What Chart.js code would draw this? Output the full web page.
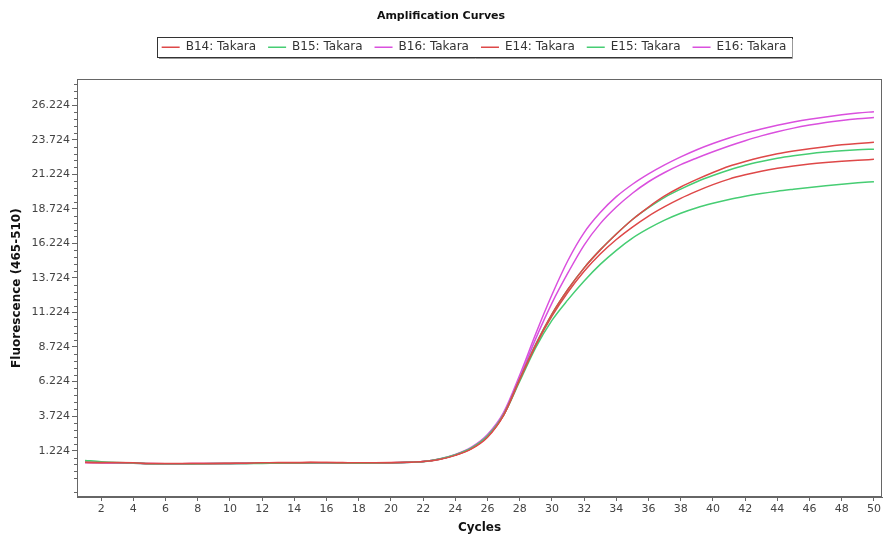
<!DOCTYPE html>
<html>
<head>
<meta charset="utf-8">
<script src="https://cdn.jsdelivr.net/npm/chart.js@4.4.0/dist/chart.umd.min.js"></script>
<style>
  html, body { margin: 0; padding: 0; background: #fff; }
</style>
</head>
<body>
<canvas id="chart" width="885" height="541"></canvas>
<script>
// Cycles (x) and tick values
const cycles = [1, 2, 3, 4, 5, 6, 7, 8, 9, 10, 11, 12, 13, 14, 15, 16, 17, 18, 19, 20, 21, 22, 23, 24, 25,
                26, 27, 28, 29, 30, 31, 32, 33, 34, 35, 36, 37, 38, 39, 40, 41, 42, 43, 44, 45, 46, 47, 48, 49, 50];
const xTickValues = [2, 4, 6, 8, 10, 12, 14, 16, 18, 20, 22, 24, 26, 28, 30, 32, 34, 36, 38, 40, 42, 44, 46, 48, 50];
const yTickValues = [1.224, 3.724, 6.224, 8.724, 11.224, 13.724, 16.224, 18.724, 21.224, 23.724, 26.224];

const seriesNames = ['B14: Takara', 'B15: Takara', 'B16: Takara', 'E14: Takara', 'E15: Takara', 'E16: Takara'];
const seriesColors = ['rgb(222,72,72)', 'rgb(70,205,115)', 'rgb(218,80,222)', 'rgb(222,72,72)', 'rgb(70,205,115)', 'rgb(218,80,222)'];

// Fluorescence values per cycle
const b14 = [0.38, 0.37, 0.36, 0.34, 0.30, 0.29, 0.29, 0.30, 0.30, 0.31, 0.32, 0.34, 0.35, 0.35, 0.36, 0.36, 0.35, 0.34, 0.34, 0.35, 0.38, 0.43,
             0.58, 0.88, 1.35, 2.2, 3.8, 6.4,
             8.9, 11.1, 12.9, 14.45, 15.75, 16.9, 17.95, 18.85, 19.65, 20.3, 20.85, 21.35, 21.8, 22.15, 22.45, 22.7, 22.9, 23.07, 23.22, 23.35, 23.45, 23.53];
const b15 = [0.52, 0.42, 0.36, 0.33, 0.28, 0.27, 0.27, 0.28, 0.29, 0.29, 0.30, 0.31, 0.32, 0.33, 0.34, 0.34, 0.33, 0.32, 0.33, 0.35, 0.38, 0.44,
             0.62, 0.93, 1.42, 2.3, 3.85, 6.4,
             8.95, 11.1, 12.9, 14.45, 15.75, 16.9, 17.95, 18.8, 19.55, 20.15, 20.68, 21.13, 21.53, 21.88, 22.15, 22.38, 22.56, 22.71, 22.83, 22.93, 23.0, 23.04];
const b16 = [0.37, 0.36, 0.35, 0.33, 0.29, 0.28, 0.28, 0.29, 0.30, 0.30, 0.31, 0.33, 0.34, 0.35, 0.35, 0.35, 0.34, 0.34, 0.34, 0.35, 0.38, 0.44,
             0.62, 0.95, 1.48, 2.4, 4.0, 6.7,
             9.7, 12.5, 15.0, 17.0, 18.45, 19.6, 20.5, 21.25, 21.9, 22.48, 23.0, 23.45, 23.85, 24.2, 24.5, 24.77, 25.0, 25.2, 25.37, 25.52, 25.65, 25.75];
const e14 = [0.36, 0.35, 0.35, 0.33, 0.29, 0.28, 0.28, 0.29, 0.29, 0.30, 0.31, 0.33, 0.36, 0.37, 0.38, 0.37, 0.36, 0.35, 0.35, 0.36, 0.39, 0.44,
             0.6, 0.9, 1.38, 2.25, 3.8, 6.35,
             8.85, 10.95, 12.7, 14.2, 15.45, 16.5, 17.4, 18.2, 18.88, 19.48, 20.0, 20.47, 20.87, 21.18, 21.44, 21.65, 21.82, 21.96, 22.07, 22.16, 22.24, 22.30];
const e15 = [0.40, 0.37, 0.35, 0.32, 0.27, 0.26, 0.26, 0.27, 0.28, 0.28, 0.29, 0.30, 0.31, 0.32, 0.32, 0.33, 0.32, 0.31, 0.31, 0.33, 0.37, 0.42,
             0.6, 0.92, 1.4, 2.28, 3.8, 6.25,
             8.7, 10.65, 12.15, 13.5, 14.7, 15.72, 16.6, 17.3, 17.9, 18.4, 18.8, 19.12, 19.4, 19.63, 19.83, 20.0, 20.14, 20.27, 20.39, 20.5, 20.6, 20.68];
const e16 = [0.36, 0.35, 0.34, 0.32, 0.28, 0.27, 0.27, 0.28, 0.29, 0.29, 0.30, 0.32, 0.33, 0.34, 0.34, 0.34, 0.33, 0.33, 0.33, 0.34, 0.37, 0.43,
             0.6, 0.92, 1.43, 2.33, 3.9, 6.5,
             9.35, 11.9, 14.1, 16.1, 17.65, 18.85, 19.85, 20.68, 21.35, 21.92, 22.4, 22.85, 23.27, 23.65, 24.0, 24.3, 24.56, 24.78, 24.97, 25.12, 25.24, 25.33];

const seriesValues = [b14, b15, b16, e14, e15, e16];

const FONT = 'DejaVu Sans';

// Box round the plot, box round the legend, small minor ticks on y
const framePlugin = {
    id: 'framePlugin',
    afterInit(chart) {
        // leave a gap under the legend
        const legend = chart.legend;
        const fit = legend.fit;
        legend.fit = function () {
            fit.call(this);
            this.height += 16;
        };
    },
    afterLayout(chart) {
        // legend sits centred over the plot, not the canvas
        const legend = chart.legend;
        legend.left += 33;
        legend.right += 33;
    },
    afterDraw(chart) {
        const { ctx, chartArea: a, legend, scales } = chart;
        ctx.save();
        ctx.strokeStyle = '#666';
        ctx.lineWidth = 1;
        ctx.strokeRect(Math.round(a.left) + 0.5, Math.round(a.top) + 0.5,
                       Math.round(a.right - a.left) - 1, Math.round(a.bottom - a.top) - 1);

        // minor ticks every 0.5
        const ys = scales.y;
        ctx.beginPath();
        for (let k = -6; k <= 54; k++) {
            if (k % 5 === 0) continue;
            const v = yTickValues[0] + k * 0.5;
            if (v < ys.min || v > ys.max) continue;
            const py = Math.round(ys.getPixelForValue(v)) + 0.5;
            ctx.moveTo(a.left - 3, py);
            ctx.lineTo(a.left, py);
        }
        ctx.stroke();

        // legend frame
        const boxes = legend.legendHitBoxes;
        if (boxes && boxes.length) {
            const l = Math.min(...boxes.map(b => b.left)) - 5;
            const r = Math.max(...boxes.map(b => b.left + b.width)) + 5;
            const t = Math.min(...boxes.map(b => b.top)) - 4;
            const btm = Math.max(...boxes.map(b => b.top + b.height)) + 4;
            ctx.strokeStyle = '#333';
            ctx.strokeRect(Math.round(l) + 0.5, Math.round(t) + 0.5, Math.round(r - l), Math.round(btm - t));
            ctx.strokeStyle = '#999';
            ctx.beginPath();
            ctx.moveTo(Math.round(r) + 1.5, Math.round(t) + 2);
            ctx.lineTo(Math.round(r) + 1.5, Math.round(btm) + 1.5);
            ctx.lineTo(Math.round(l) + 2, Math.round(btm) + 1.5);
            ctx.stroke();
        }
        ctx.restore();
    }
};

const datasets = seriesNames.map((name, i) => ({
    label: name,
    data: cycles.map((c, j) => ({ x: c, y: seriesValues[i][j] })),
    borderColor: seriesColors[i],
    backgroundColor: seriesColors[i],
    borderWidth: 1.5,
    pointRadius: 0,
    cubicInterpolationMode: 'monotone',
    fill: false
}));

new Chart(document.getElementById('chart').getContext('2d'), {
    type: 'line',
    data: { datasets: datasets },
    plugins: [framePlugin],
    options: {
        responsive: false,
        animation: false,
        layout: { padding: { left: 0, right: 3, top: 0, bottom: 0 } },
        scales: {
            x: {
                type: 'linear',
                min: 0.5,
                max: 50.5,
                afterBuildTicks: s => { s.ticks = xTickValues.map(v => ({ value: v })); },
                afterFit: s => { s.height = 44; },
                ticks: {
                    autoSkip: false,
                    maxRotation: 0,
                    padding: 2,
                    color: '#444',
                    font: { family: FONT, size: 11 }
                },
                grid: { drawOnChartArea: false, tickLength: 4, color: '#666' },
                border: { color: '#666' },
                title: {
                    display: true,
                    text: 'Cycles',
                    color: '#111',
                    font: { family: FONT, size: 12, weight: 'bold' },
                    padding: { top: 0, bottom: 6 }
                }
            },
            y: {
                type: 'linear',
                min: -2.13,
                max: 28.1,
                afterBuildTicks: s => { s.ticks = yTickValues.map(v => ({ value: v })); },
                afterFit: s => { s.width = 77; },
                ticks: {
                    padding: 2,
                    color: '#444',
                    font: { family: FONT, size: 11 },
                    callback: v => v.toFixed(3)
                },
                grid: { drawOnChartArea: false, tickLength: 5, color: '#666' },
                border: { color: '#666' },
                title: {
                    display: true,
                    text: 'Fluorescence (465-510)',
                    color: '#111',
                    font: { family: FONT, size: 12, weight: 'bold' },
                    padding: { top: 10, bottom: 0 }
                }
            }
        },
        plugins: {
            title: {
                display: true,
                text: 'Amplification Curves',
                color: '#111',
                font: { family: FONT, size: 11, weight: 'bold' },
                padding: { top: 10, bottom: 6 }
            },
            legend: {
                position: 'top',
                labels: {
                    usePointStyle: true,
                    pointStyle: 'line',
                    pointStyleWidth: 18,
                    padding: 12,
                    color: '#333',
                    font: { family: FONT, size: 12 }
                }
            },
            tooltip: { enabled: false }
        }
    }
});
</script>
</body>
</html>
